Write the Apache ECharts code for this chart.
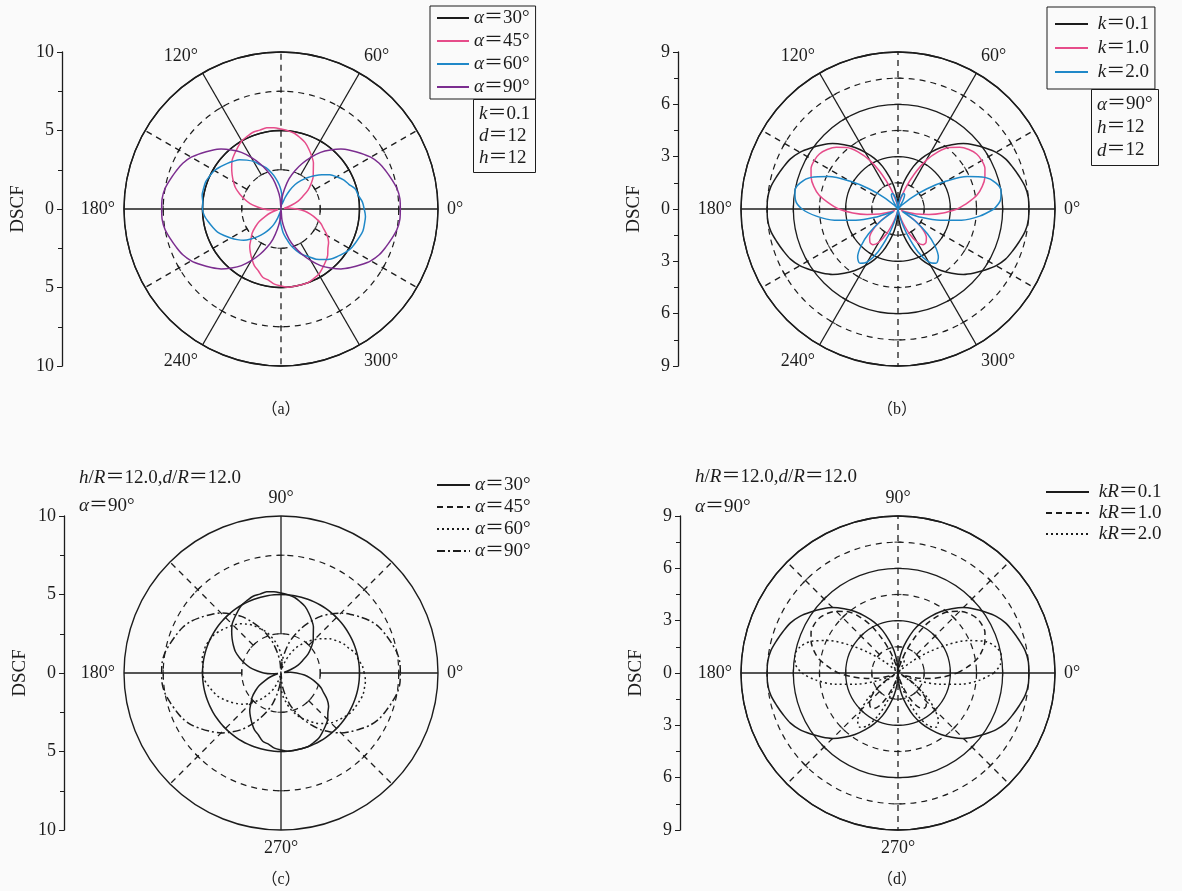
<!DOCTYPE html>
<html>
<head>
<meta charset="utf-8">
<script src="https://cdn.jsdelivr.net/npm/echarts@6/dist/echarts.min.js"></script>
<style>
html,body{margin:0;padding:0;background:#fafafa;}
#chart{width:1182px;height:891px;}
</style>
</head>
<body>
<div id="chart"></div>
<script>
// polar angle of every sample, degrees
const angles = [0,5,10,15,20,25,30,35,40,45,50,55,60,65,70,75,80,85,90,95,100,105,110,115,120,125,130,135,140,145,150,155,160,165,170,175,
  180,185,190,195,200,205,210,215,220,225,230,235,240,245,250,255,260,265,270,275,280,285,290,295,300,305,310,315,320,325,330,335,340,345,350,355,360];

// panels (a) and (c): DSCF vs angle for alpha = 30/45/60/90 deg
const alpha30 = [5.0,5.0,5.0,5.0,5.0,5.0,5.0,5.0,5.0,5.0,5.0,5.0,5.0,5.0,5.0,5.0,5.0,5.0,5.0,5.0,5.0,5.0,5.0,5.0,5.0,5.0,5.0,5.0,5.0,5.0,5.0,5.0,5.0,5.0,5.0,5.0,
  5.0,5.0,5.0,5.0,5.0,5.0,5.0,5.0,5.0,5.0,5.0,5.0,5.0,5.0,5.0,5.0,5.0,5.0,5.0,5.0,5.0,5.0,5.0,5.0,5.0,5.0,5.0,5.0,5.0,5.0,5.0,5.0,5.0,5.0,5.0,5.0,5.0];
const alpha45 = [1.0,0.6,0.2,0.3,0.7,1.2,1.6,2.1,2.5,2.9,3.2,3.6,3.9,4.2,4.5,4.7,4.9,5.0,5.1,5.2,5.25,5.2,5.2,5.1,5.0,4.8,4.6,4.4,4.1,3.8,3.5,3.2,2.8,2.4,2.0,1.5,
  1.1,0.6,0.2,0.3,0.7,1.1,1.6,2.0,2.4,2.7,3.1,3.4,3.7,4.0,4.2,4.5,4.6,4.8,4.9,5.0,5.0,5.0,5.0,4.9,4.8,4.6,4.4,4.2,3.9,3.7,3.4,3.0,2.7,2.3,1.9,1.5,1.0];
const alpha60 = [5.3,5.2,5.0,4.9,4.6,4.4,4.1,3.8,3.4,3.0,2.6,2.2,1.8,1.3,0.8,0.4,0.3,0.7,1.2,1.6,2.0,2.4,2.8,3.1,3.5,3.8,4.1,4.3,4.5,4.7,4.9,5.0,5.1,5.1,5.1,5.0,
  5.0,4.9,4.7,4.5,4.3,4.0,3.7,3.4,3.1,2.7,2.3,1.9,1.5,1.1,0.6,0.2,0.1,0.6,1.0,1.5,1.9,2.4,2.8,3.2,3.5,3.9,4.2,4.5,4.7,4.9,5.1,5.2,5.3,5.4,5.4,5.4,5.3];
const alpha90 = [7.6,7.6,7.5,7.3,7.1,6.9,6.6,6.2,5.8,5.4,4.9,4.4,3.8,3.2,2.6,2.0,1.3,0.7,0.0,0.7,1.3,2.0,2.6,3.2,3.8,4.4,4.9,5.4,5.8,6.2,6.6,6.9,7.1,7.3,7.5,7.6,
  7.6,7.6,7.5,7.3,7.1,6.9,6.6,6.2,5.8,5.4,4.9,4.4,3.8,3.2,2.6,2.0,1.3,0.7,0.0,0.7,1.3,2.0,2.6,3.2,3.8,4.4,4.9,5.4,5.8,6.2,6.6,6.9,7.1,7.3,7.5,7.6,7.6];

// panels (b) and (d): DSCF vs angle for k = 0.1/1.0/2.0
const k01 = [7.5,7.5,7.4,7.2,7.0,6.8,6.5,6.1,5.7,5.3,4.8,4.3,3.75,3.2,2.6,1.9,1.3,0.65,0.0,0.65,1.3,1.9,2.6,3.2,3.75,4.3,4.8,5.3,5.7,6.1,6.5,6.8,7.0,7.2,7.4,7.5,
  7.5,7.5,7.4,7.2,7.0,6.8,6.5,6.1,5.7,5.3,4.8,4.3,3.75,3.2,2.6,1.9,1.3,0.65,0.0,0.65,1.3,1.9,2.6,3.2,3.75,4.3,4.8,5.3,5.7,6.1,6.5,6.8,7.0,7.2,7.4,7.5,7.5];
const k10 = [3.4,4.0,4.6,5.0,5.3,5.5,5.55,5.5,5.3,5.0,4.6,4.0,3.2,2.2,1.3,0.6,0.3,0.1,0.0,0.1,0.3,0.6,1.3,2.2,3.2,4.0,4.6,5.0,5.3,5.5,5.55,5.5,5.3,5.0,4.6,4.0,
  3.4,2.6,1.8,1.1,0.5,0.2,0.6,1.3,1.9,2.3,2.5,2.5,2.2,1.6,0.9,0.4,0.1,0.0,0.0,0.0,0.1,0.4,0.9,1.6,2.2,2.5,2.5,2.3,1.9,1.3,0.6,0.2,0.5,1.1,1.8,2.6,3.4];
const k20 = [5.5,5.9,6.0,5.8,5.3,4.4,3.2,2.0,1.0,0.3,0.0,0.2,0.6,0.9,0.95,0.8,0.5,0.2,0.0,0.2,0.5,0.8,0.95,0.9,0.6,0.2,0.0,0.3,1.0,2.0,3.2,4.4,5.3,5.8,6.0,5.9,
  5.5,4.7,3.7,2.5,1.4,0.5,0.3,1.2,2.2,3.0,3.6,3.8,3.5,2.7,1.6,0.7,0.2,0.0,0.0,0.0,0.2,0.7,1.6,2.7,3.5,3.8,3.6,3.0,2.2,1.2,0.3,0.5,1.4,2.5,3.7,4.7,5.5];

const alphaLabels = ['30', '45', '60', '90'];
const kLabels = ['0.1', '1.0', '2.0'];

const ink = '#1c1c1c';
const serif = "'Liberation Serif','Times New Roman','Noto Sans CJK SC',serif";
const R = 157;
const panels = [
  { cx: 281, cy: 209, max: 10, step: 5, axisX: 62, angStep: 60, rings: [2.5, 5, 7.5] },
  { cx: 898, cy: 209, max: 9, step: 3, axisX: 678, angStep: 60, rings: [1.5, 3, 4.5, 6, 7.5] },
  { cx: 281, cy: 673, max: 10, step: 5, axisX: 64, angStep: 90, rings: [2.5, 5, 7.5] },
  { cx: 898, cy: 673, max: 9, step: 3, axisX: 680, angStep: 90, rings: [1.5, 3, 4.5, 6, 7.5] }
];
// radial grid lines: [angle, start radius, dashed]
const spokes = [
  [[0,0,0],[180,0,0],[60,2.5,0],[120,2.5,0],[240,2.5,0],[300,2.5,0],[30,2.5,1],[90,2.5,1],[150,2.5,1],[210,2.5,1],[270,2.5,1],[330,2.5,1]],
  [[0,0,0],[180,0,0],[60,1.5,0],[120,1.5,0],[240,1.5,0],[300,1.5,0],[90,0,1],[270,0,1],[30,1.5,1],[150,1.5,1],[210,1.5,1],[330,1.5,1]],
  [[0,2.5,0],[90,2.5,0],[180,2.5,0],[270,0,0],[45,2.5,1],[135,2.5,1],[225,2.5,1],[315,2.5,1]],
  [[0,0,0],[180,0,0],[90,0,1],[270,0,1],[45,1.5,1],[135,1.5,1],[225,1.5,1],[315,1.5,1]]
];

const dash = [6, 5];
const series = [];
spokes.forEach((list, pi) => {
  const ticks = [];
  list.forEach(s => {
    series.push({
      type: 'line', coordinateSystem: 'polar', polarIndex: pi, silent: true, symbol: 'none', z: 2,
      data: [[s[1], s[0]], [panels[pi].max, s[0]]],
      lineStyle: { color: ink, width: 1.3, type: s[2] ? dash : 'solid' }
    });
    panels[pi].rings.forEach(r => { if (r >= s[1]) ticks.push([r, s[0]]); });
  });
  // small cross ticks where spokes meet the rings
  series.push({
    type: 'scatter', coordinateSystem: 'polar', polarIndex: pi, silent: true, z: 3,
    data: ticks, symbol: 'rect', symbolSize: [7, 1.2],
    symbolRotate: v => v[1] + 90,
    itemStyle: { color: ink }
  });
});

function curve(name, pi, vals, color, type) {
  return {
    name: name, type: 'line', coordinateSystem: 'polar', polarIndex: pi, silent: true,
    symbol: 'none', z: 5, smooth: 0.3,
    data: angles.map((a, j) => [vals[j], a]),
    itemStyle: { color: color },
    lineStyle: { color: color, width: 1.5, type: type || 'solid' }
  };
}
const alphaVals = [alpha30, alpha45, alpha60, alpha90];
const kVals = [k01, k10, k20];
const colorsA = [ink, '#e64c8a', '#1f88c8', '#7b2d8f'];
const colorsB = [ink, '#e64c8a', '#1f88c8'];
const stylesC = ['solid', 'solid', [2, 3], [8, 3, 2, 3]];
const stylesD = ['solid', [6, 4], [2, 3]];

alphaLabels.forEach((l, i) => series.push(curve('a' + l, 0, alphaVals[i], colorsA[i])));
kLabels.forEach((l, i) => series.push(curve('b' + l, 1, kVals[i], colorsB[i])));
alphaLabels.forEach((l, i) => series.push(curve('c' + l, 2, alphaVals[i], ink, stylesC[i])));
kLabels.forEach((l, i) => series.push(curve('d' + l, 3, kVals[i], ink, stylesD[i])));

function richSet(lh) {
  return {
    i: { fontFamily: serif, fontStyle: 'italic', fontWeight: 'normal', fontSize: 19, color: ink, lineHeight: lh },
    n: { fontFamily: serif, fontWeight: 'normal', fontSize: 19, color: ink, lineHeight: lh }
  };
}
const baseLegend = {
  orient: 'vertical', selectedMode: false, itemHeight: 12,
  itemStyle: { opacity: 0 },
  textStyle: { fontFamily: serif, fontSize: 19, color: ink, lineHeight: 20, rich: richSet(20) }
};
const legends = [
  Object.assign({}, baseLegend, {
    data: alphaLabels.map(l => 'a' + l), left: 430, top: 6, itemWidth: 32, itemGap: 3,
    borderColor: ink, borderWidth: 1, padding: [2, 6, 2, 6],
    formatter: n => '{i|α}{n|＝' + n.slice(1) + '°}'
  }),
  Object.assign({}, baseLegend, {
    data: kLabels.map(l => 'b' + l), left: 1047, top: 7, itemWidth: 33, itemGap: 4,
    borderColor: ink, borderWidth: 1, padding: [7, 6, 7, 7],
    formatter: n => '{n| }{i|k}{n|＝' + n.slice(1) + '}'
  }),
  Object.assign({}, baseLegend, {
    data: [{ name: 'c30' }, { name: 'c45', lineStyle: { type: [6, 4] } }, { name: 'c60' }, { name: 'c90' }],
    left: 436, top: 475, itemWidth: 33, itemGap: 2, padding: 0,
    formatter: n => '{i|α}{n|＝' + n.slice(1) + '°}'
  }),
  Object.assign({}, baseLegend, {
    data: kLabels.map(l => 'd' + l), left: 1045, top: 482, itemWidth: 43, itemGap: 1, padding: 0,
    formatter: n => '{n| }{i|kR}{n|＝' + n.slice(1) + '}'
  })
];

const titleText = { fontWeight: 'normal', fontFamily: serif, fontSize: 19, color: ink };
const titles = [
  { left: 473, top: 99, padding: [4, 6, 4, 6], borderColor: ink, borderWidth: 1,
    text: '{i|k}{n|＝0.1}\n{i|d}{n|＝12}\n{i|h}{n|＝12}',
    textStyle: Object.assign({ lineHeight: 22, rich: richSet(22) }, titleText) },
  { left: 1091, top: 89, padding: [4, 6, 4, 6], borderColor: ink, borderWidth: 1,
    text: '{i|α}{n|＝90°}\n{i|h}{n|＝12}\n{i|d}{n|＝12}',
    textStyle: Object.assign({ lineHeight: 23, rich: richSet(23) }, titleText) },
  { left: 79, top: 464, padding: 0,
    text: '{i|h}{n|/}{i|R}{n|＝12.0,}{i|d}{n|/}{i|R}{n|＝12.0}\n{i|α}{n|＝90°}',
    textStyle: Object.assign({ lineHeight: 28, rich: richSet(28) }, titleText) },
  { left: 695, top: 462, padding: 0,
    text: '{i|h}{n|/}{i|R}{n|＝12.0,}{i|d}{n|/}{i|R}{n|＝12.0}\n{i|α}{n|＝90°}',
    textStyle: Object.assign({ lineHeight: 30, rich: richSet(30) }, titleText) }
];

const captions = ['（a）', '（b）', '（c）', '（d）'];
const captionPos = [[281, 410], [897, 410], [281, 880], [897, 880]];

const option = {
  backgroundColor: '#fafafa',
  animation: false,
  title: titles,
  legend: legends,
  polar: panels.map(p => ({ center: [p.cx, p.cy], radius: R })),
  angleAxis: panels.map((p, i) => ({
    polarIndex: i, type: 'value', min: 0, max: 360, interval: p.angStep,
    startAngle: 0, clockwise: false,
    axisLine: { lineStyle: { color: ink, width: 1.4 } },
    axisTick: { show: false },
    splitLine: { show: false },
    axisLabel: { margin: 9, color: ink, fontFamily: serif, fontSize: 18,
      formatter: v => (v === 360 ? '' : v + '°') }
  })),
  radiusAxis: panels.map((p, i) => ({
    polarIndex: i, type: 'value', min: 0, max: p.max, interval: p.step,
    axisLine: { show: false }, axisTick: { show: false }, axisLabel: { show: false },
    splitLine: { show: i !== 2, lineStyle: { color: ink, width: 1.3 } },
    minorTick: { show: false, splitNumber: 2 },
    minorSplitLine: { show: true, lineStyle: { color: ink, width: 1.2, type: dash } }
  })),
  grid: panels.map(p => ({ left: p.axisX, top: p.cy - R, width: 10, height: 2 * R })),
  xAxis: panels.map((p, i) => ({ gridIndex: i, type: 'value', show: false })),
  yAxis: panels.map((p, i) => ({
    gridIndex: i, type: 'value', min: -p.max, max: p.max, interval: p.step,
    name: 'DSCF', nameLocation: 'middle', nameRotate: 90, nameGap: 34,
    nameTextStyle: { fontFamily: serif, fontSize: 19, color: ink },
    axisLine: { show: true, lineStyle: { color: ink, width: 1.3 } },
    axisTick: { show: true, length: 5, lineStyle: { color: ink } },
    minorTick: { show: true, splitNumber: 2, length: 4, lineStyle: { color: ink } },
    splitLine: { show: false },
    axisLabel: { margin: 8, color: ink, fontFamily: serif, fontSize: 18, formatter: v => Math.abs(v) }
  })),
  graphic: captions.map((c, i) => ({
    type: 'text', x: captionPos[i][0], y: captionPos[i][1],
    style: { text: c, fill: ink, font: "16px 'Liberation Serif', 'Noto Sans CJK SC', serif", textAlign: 'center', textVerticalAlign: 'middle' }
  })),
  series: series
};

const chart = echarts.init(document.getElementById('chart'));
chart.setOption(option);
</script>
</body>
</html>
